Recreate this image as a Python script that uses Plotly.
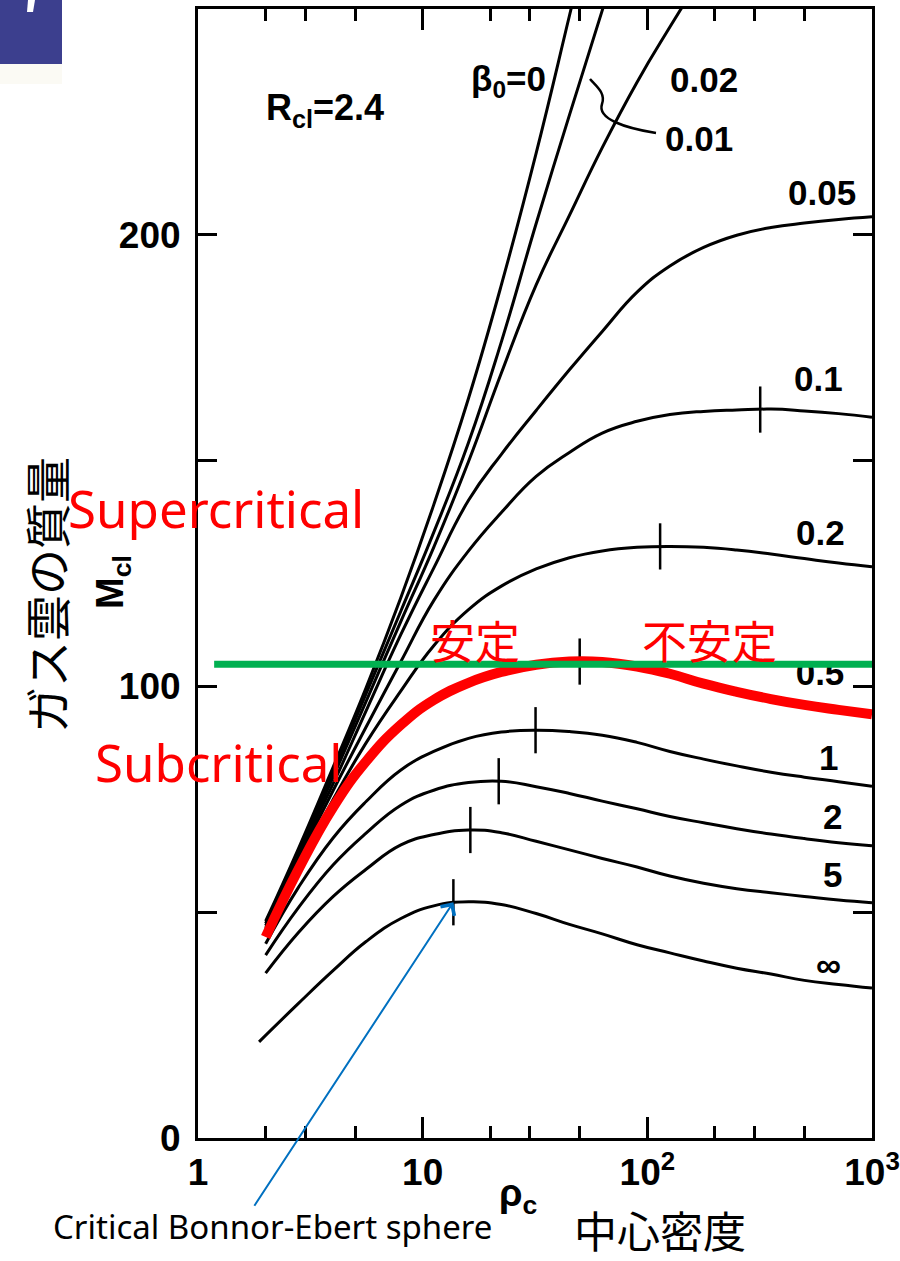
import numpy as np
import plotly.graph_objects as go

# ---- data: cloud mass M_cl vs central density rho_c for several beta_0 (R_cl = 2.4) ----
rho_grid = [2, 2.8, 4, 5.6, 8, 11.2, 16, 22.4, 32, 45, 63, 90, 126, 178, 250, 355, 500, 710, 1000]

m_beta_0 = [48, 64.1, 82.2, 99.7, 119.7, 140.2, 163.8, 188.9, 218.1, 248.5, 279]
m_beta_001 = [47.5, 63.3, 81, 98.4, 116.7, 134.1, 154, 176.3, 202.5, 226.5, 249.7, 275]
m_beta_002 = [47, 62.8, 80, 96.7, 114.4, 130.8, 149.8, 169.4, 188.9, 204.3, 219.3, 233.8, 246, 258]
m_beta_005 = [46.5, 62.5, 78.5, 94.6, 111.5, 126.2, 141.2, 151.4, 161.1, 170.1, 178.6, 187.3, 193.1,
              197.2, 199.9, 201.6, 202.6, 203.4, 204]
m_beta_01 = [46, 61.5, 77, 91, 105.5, 119, 130, 138.5, 146.5, 151.8, 156.1, 158.7, 160.2,
             160.9, 161.2, 161.4, 161, 160.4, 159.6]
m_beta_02 = [45.5, 60.5, 75, 87.5, 99, 109, 117, 122.2, 126, 128.5, 130, 130.8, 131,
             130.8, 130.2, 129.3, 128.3, 127.3, 126.5]
m_beta_05 = [44.5, 59.5, 73.3, 83.4, 91.5, 97, 100.8, 103.2, 104.8, 105.5, 105.4, 104.4, 102.8,
             100.6, 98.8, 97.2, 95.9, 94.8, 93.8]
m_beta_1 = [43, 55.5, 66.5, 74.5, 81.5, 85.6, 88.5, 89.9, 90.3, 90, 89.2, 87.6, 85.6,
            83.9, 82.4, 81, 79.9, 78.9, 77.9]
m_beta_2 = [40.5, 51, 60.5, 67.5, 73.7, 77, 78.7, 79, 77.8, 76.3, 74.6, 72.9, 71.2,
            69.8, 68.5, 67.3, 66.3, 65.4, 64.7]
m_beta_5 = [36.5, 45.5, 53.5, 59.5, 64.9, 67.2, 68.2, 67.6, 65.7, 63.8, 61.9, 60, 58,
            56.4, 55.2, 54.3, 53.5, 52.7, 52.1]

rho_inf = [1.87] + rho_grid[1:]
m_beta_inf = [21.3, 29.8, 37.1, 43.5, 48.6, 51.4, 52.3, 51.7, 49.7, 47.3, 45.2, 42.8, 41,
              39.2, 37.6, 36.3, 34.9, 34, 33.2]

# critical (maximum-mass) points marked on the curves
crit_rho = [318, 114, 50, 31.8, 21.8, 16.3, 13.7]
crit_m = [161.3, 131.0, 105.5, 90.3, 79.0, 68.2, 52.2]

# critical mass level (horizontal line)
m_critical_level = 104.9

x_tickvals = [1, 10, 100, 1000]
x_ticktext = ["1", "10", "10<sup>2</sup>", "10<sup>3</sup>"]
x_minor_vals = [2, 3, 5, 20, 30, 50, 200, 300, 500]
y_tickvals = [0, 50, 100, 150, 200]
y_ticktext = ["0", "", "100", "", "200"]

beta_labels = ["0.05", "0.1", "0.2", "1", "2", "5", "∞"]

# ---- page geometry (pixels) ----
W_PAGE, H_PAGE = 900, 1261
L, R, T, B = 198, 872, 9, 1138
PW, PH = R - L, B - T


def fx(p):
    return (p - L) / PW


def fy(p):
    return (B - p) / PH


SCAN_FONT = "Liberation Sans"
LABEL_SIZE = 35
SMOOTH = 1.3
fig = go.Figure()

black_curves = [
    (rho_grid[:len(m_beta_0)], m_beta_0),
    (rho_grid[:len(m_beta_001)], m_beta_001),
    (rho_grid[:len(m_beta_002)], m_beta_002),
    (rho_grid, m_beta_005),
    (rho_grid, m_beta_01),
    (rho_grid, m_beta_02),
    (rho_grid, m_beta_1),
    (rho_grid, m_beta_2),
    (rho_grid, m_beta_5),
    (rho_inf, m_beta_inf),
]
for xs, ys in black_curves:
    fig.add_trace(go.Scatter(x=xs, y=ys, mode="lines",
                             line=dict(color="black", width=3, shape="spline", smoothing=SMOOTH),
                             hoverinfo="skip", showlegend=False))

# critical-point tick marks
fig.add_trace(go.Scatter(x=crit_rho, y=crit_m, mode="markers",
                         marker=dict(symbol="line-ns", size=33,
                                     line=dict(color="black", width=2.5)),
                         hoverinfo="skip", showlegend=False))

# label for beta_0 = 0.5 sits under the highlight line
fig.add_trace(go.Scatter(x=[10 ** ((820 - L) / (PW / 3))], y=[(B - 676) / (PH / 250)],
                         mode="text", text=["0.5"],
                         textfont=dict(family=SCAN_FONT, size=LABEL_SIZE, color="black", weight="bold"),
                         hoverinfo="skip", showlegend=False))

# highlighted beta_0 = 0.5 curve
fig.add_trace(go.Scatter(x=rho_grid, y=m_beta_05, mode="lines",
                         line=dict(color="#ff0000", width=10, shape="spline", smoothing=SMOOTH),
                         hoverinfo="skip", showlegend=False))

# critical mass level
fig.add_trace(go.Scatter(x=[1.18, 1000], y=[m_critical_level, m_critical_level], mode="lines",
                         line=dict(color="#00b050", width=7),
                         hoverinfo="skip", showlegend=False))

annotations = []


def text_at(px, py, txt, size, color="black", family=SCAN_FONT, weight="bold",
            angle=0, xanchor="center"):
    annotations.append(dict(x=fx(px), y=fy(py), xref="paper", yref="paper", text=txt,
                            showarrow=False, xanchor=xanchor, yanchor="middle",
                            textangle=angle,
                            font=dict(family=family, size=size, color=color, weight=weight)))


# curve labels
label_pos = [(822, 192), (818, 378), (820, 532), (828, 757), (832, 817), (832, 874), (828, 964)]
for (px, py), lab in zip(label_pos, beta_labels):
    text_at(px, py, lab, LABEL_SIZE)
text_at(704, 79, "0.02", LABEL_SIZE)
text_at(699, 138, "0.01", LABEL_SIZE)
text_at(508, 81, "β<sub>0</sub>=0", LABEL_SIZE)
text_at(325, 110, "R<sub>cl</sub>=2.4", 36)

# axis titles from the original figure
text_at(113, 582, "M<sub>cl</sub>", 38, angle=-90)
text_at(518, 1196, "ρ<sub>c</sub>", 38)

# Japanese axis captions
text_at(45, 595, "ガス雲の質量", 46, family="Noto Sans CJK JP", weight="normal", angle=-90)
text_at(660, 1229, "中心密度", 43, family="Noto Sans CJK JP", weight="normal")

# red annotations
text_at(216, 508, "Supercritical", 51, color="#ff0000", family="Noto Sans", weight="normal")
text_at(218, 762, "Subcritical", 51, color="#ff0000", family="Noto Sans", weight="normal")
text_at(475, 640, "安定", 45, color="#ff0000", family="Noto Sans CJK JP", weight="normal")
text_at(709, 640, "不安定", 45, color="#ff0000", family="Noto Sans CJK JP", weight="normal")

# Bonnor-Ebert pointer
text_at(272, 1226, "Critical Bonnor-Ebert sphere", 33, family="Noto Sans", weight="normal")
annotations.append(dict(x=np.log10(crit_rho[-1]), y=crit_m[-1], xref="x", yref="y",
                        ax=-200, ay=305, axref="pixel", ayref="pixel",
                        showarrow=True, arrowhead=4, arrowsize=1.6, arrowwidth=2,
                        arrowcolor="#0070c0", text=""))

shapes = [
    # leader from the 0.01 label to its curve
    dict(type="path", xref="paper", yref="paper",
         path=(f"M {fx(656)},{fy(133)} C {fx(625)},{fy(128)} {fx(597)},{fy(119)} {fx(602)},{fy(104)} "
               f"C {fx(606)},{fy(93)} {fx(596)},{fy(86)} {fx(590)},{fy(79)}"),
         line=dict(color="black", width=2.5)),
    # slide corner badge
    dict(type="rect", xref="paper", yref="paper", x0=fx(0), x1=fx(62), y0=fy(64), y1=fy(0),
         fillcolor="#3c3f8e", line=dict(width=0), layer="above"),
    dict(type="rect", xref="paper", yref="paper", x0=fx(0), x1=fx(62), y0=fy(84), y1=fy(64),
         fillcolor="#fbfaf4", line=dict(width=0), layer="above"),
    dict(type="path", xref="paper", yref="paper",
         path=f"M {fx(28)},{fy(0)} L {fx(35)},{fy(0)} L {fx(33)},{fy(12)} L {fx(27)},{fy(12)} Z",
         fillcolor="white", line=dict(width=0), layer="above"),
]

axis_common = dict(showline=True, linecolor="black", linewidth=3, mirror="ticks",
                   ticks="inside", tickcolor="black", tickwidth=2.5, showgrid=False,
                   zeroline=False,
                   tickfont=dict(family=SCAN_FONT, size=37, color="black", weight="bold"))

fig.update_layout(
    width=W_PAGE, height=H_PAGE,
    margin=dict(l=L, r=W_PAGE - R, t=T, b=H_PAGE - B, autoexpand=False),
    paper_bgcolor="white", plot_bgcolor="white",
    showlegend=False,
    xaxis=dict(type="log", range=[0, 3], tickmode="array", tickvals=x_tickvals,
               ticktext=x_ticktext, ticklen=21, ticklabelstandoff=0,
               minor=dict(tickmode="array", tickvals=x_minor_vals, ticklen=12,
                          ticks="inside", tickcolor="black", tickwidth=2.5),
               **axis_common),
    yaxis=dict(range=[0, 250], tickmode="array", tickvals=y_tickvals, ticktext=y_ticktext,
               ticklen=19, ticklabelstandoff=7, **axis_common),
    annotations=annotations,
    shapes=shapes,
)

fig.write_html("out.html")
